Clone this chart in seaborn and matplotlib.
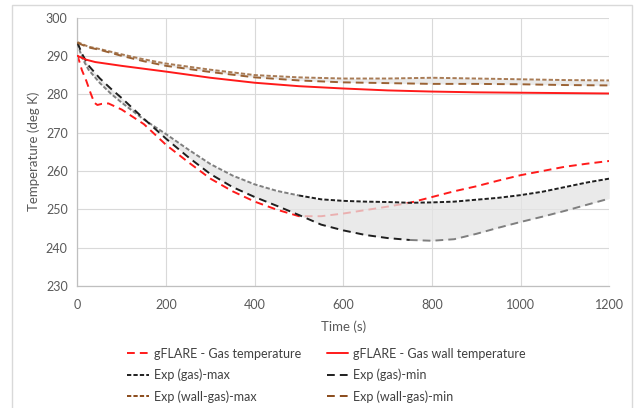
import numpy as np
import pandas as pd
import matplotlib
matplotlib.use("Agg")
import matplotlib.pyplot as plt
from matplotlib.lines import Line2D
from matplotlib.patches import Rectangle
import seaborn as sns

# ---------------- data ----------------
# gFLARE gas temperature
t_gas = [0, 10, 20, 30, 38, 45, 55, 70, 100, 150, 200, 250, 300, 350, 400, 450,
         500, 550, 600, 650, 700, 750, 800, 850, 900, 950, 1000, 1050, 1100, 1150, 1200]
gas_temp = [290.2, 286.3, 283.5, 280.2, 277.8, 277.2, 277.5, 277.6, 276.0, 272.2, 266.8,
            262.3, 258.0, 254.7, 252.0, 249.9, 248.2, 248.2, 248.9, 249.8, 250.7, 251.7,
            253.2, 254.7, 256.0, 257.5, 258.9, 260.0, 261.1, 261.9, 262.6]

# gFLARE gas wall temperature
t_wall = [0, 20, 40, 100, 200, 300, 400, 500, 600, 700, 800, 900, 1000, 1100, 1200]
wall_temp = [290.0, 289.0, 288.4, 287.4, 285.9, 284.3, 283.0, 282.1, 281.5, 281.0,
             280.7, 280.5, 280.4, 280.3, 280.2]

# Experimental gas (max / min)
t_exp = [0, 10, 25, 50, 75, 100, 150, 200, 250, 300, 350, 400, 450, 500, 550, 600,
         650, 700, 750, 800, 850, 900, 950, 1000, 1050, 1100, 1150, 1200]
exp_gas_max = [293.3, 289.6, 286.4, 283.0, 280.2, 277.8, 273.4, 269.6, 265.6, 261.8,
               258.8, 256.5, 254.8, 253.6, 252.6, 252.2, 252.0, 251.9, 251.7, 251.8,
               252.0, 252.5, 253.0, 253.7, 254.6, 255.8, 257.0, 258.0]
exp_gas_min = [293.5, 290.6, 287.5, 284.2, 281.5, 279.0, 273.6, 268.4, 263.6, 259.2,
               255.8, 253.2, 250.9, 248.5, 246.0, 244.5, 243.3, 242.5, 242.0, 241.8,
               242.2, 243.6, 245.2, 246.7, 248.1, 249.6, 251.2, 252.8]

# Experimental wall-gas (max / min)
t_wexp = [0, 25, 50, 100, 150, 200, 300, 400, 500, 600, 700, 800, 900, 1000, 1100, 1200]
exp_wall_max = [293.6, 292.4, 291.8, 290.4, 289.1, 288.0, 286.4, 285.0, 284.4, 284.1,
                284.1, 284.3, 284.1, 283.9, 283.7, 283.6]
exp_wall_min = [293.4, 292.2, 291.6, 290.0, 288.6, 287.4, 285.8, 284.4, 283.6, 283.1,
                282.9, 282.7, 282.7, 282.6, 282.4, 282.3]

labels = ["gFLARE - Gas temperature", "gFLARE - Gas wall temperature",
          "Exp (gas)-max", "Exp (gas)-min",
          "Exp (wall-gas)-max", "Exp (wall-gas)-min"]
x_ticks = [0, 200, 400, 600, 800, 1000, 1200]
y_ticks = [230, 240, 250, 260, 270, 280, 290, 300]

# ---------------- style ----------------
sns.set_style("white")
plt.rcParams["font.family"] = ["Lato", "DejaVu Sans"]
TXT = "#595959"

fig = plt.figure(figsize=(6.4, 4.08), dpi=100)
ax = fig.add_axes([0.121, 0.299, 0.831, 0.658])

RED = "#ff1a1a"
BLACK = "#1f1f1f"
FADE = "#7f7f7f"
BROWN_MAX = "#a87b55"
BROWN_MIN = "#9a6234"
BROWN_LEG = "#8a4b1a"

short_dash = (0, (2.2, 1.1))
long_dash = (0, (4, 2.6))

df_gas = pd.DataFrame({"t": t_gas, "T": gas_temp})
df_wall = pd.DataFrame({"t": t_wall, "T": wall_temp})
df_exp = pd.DataFrame({"t": t_exp, "max": exp_gas_max, "min": exp_gas_min})
df_wexp = pd.DataFrame({"t": t_wexp, "max": exp_wall_max, "min": exp_wall_min})

# gFLARE gas temperature (under the band, so it fades inside it)
sns.lineplot(data=df_gas, x="t", y="T", ax=ax, color=RED, lw=1.4,
             linestyle=long_dash, zorder=2)

# shaded band between experimental curves
ax.fill_between(df_exp["t"], df_exp["min"], df_exp["max"], color="#e4e4e4",
                alpha=0.75, lw=0, zorder=3)
ax.fill_between(df_wexp["t"], df_wexp["min"], df_wexp["max"], color="#e4e4e4",
                alpha=0.75, lw=0, zorder=3)

# Exp gas max: faded early, dark later
m1 = df_exp[df_exp["t"] <= 500]
m2 = df_exp[df_exp["t"] >= 500]
sns.lineplot(data=m1, x="t", y="max", ax=ax, color=FADE, lw=1.4,
             linestyle=short_dash, zorder=4)
sns.lineplot(data=m2, x="t", y="max", ax=ax, color=BLACK, lw=1.4,
             linestyle=short_dash, zorder=4)
# Exp gas min: dark early, faded later
n1 = df_exp[df_exp["t"] <= 750]
n2 = df_exp[df_exp["t"] >= 750]
sns.lineplot(data=n1, x="t", y="min", ax=ax, color=BLACK, lw=1.4,
             linestyle=long_dash, zorder=4)
sns.lineplot(data=n2, x="t", y="min", ax=ax, color=FADE, lw=1.4,
             linestyle=long_dash, zorder=4)

# Exp wall-gas
sns.lineplot(data=df_wexp, x="t", y="max", ax=ax, color=BROWN_MAX, lw=1.4,
             linestyle=short_dash, zorder=4)
sns.lineplot(data=df_wexp, x="t", y="min", ax=ax, color=BROWN_MIN, lw=1.4,
             linestyle=long_dash, zorder=4)

# gFLARE wall temperature
sns.lineplot(data=df_wall, x="t", y="T", ax=ax, color=RED, lw=1.4, zorder=5)

# ---------------- axes ----------------
ax.set_xlim(0, 1200)
ax.set_ylim(230, 300)
ax.set_xticks(x_ticks)
ax.set_yticks(y_ticks)
ax.grid(True, color="#d9d9d9", lw=0.8, zorder=0)
ax.set_axisbelow(True)
for s in ["top", "right"]:
    ax.spines[s].set_visible(False)
for s in ["left", "bottom"]:
    ax.spines[s].set_color("#bfbfbf")
    ax.spines[s].set_linewidth(0.9)
ax.tick_params(axis="x", length=0, labelsize=9, labelcolor=TXT, pad=9)
ax.tick_params(axis="y", length=0, labelsize=9, labelcolor=TXT, pad=7)
ax.set_xlabel("Time (s)", fontsize=9.5, color=TXT, labelpad=7)
ax.set_ylabel("Temperature (deg K)", fontsize=9.5, color=TXT, labelpad=4)

# ---------------- legend ----------------
h = {
    labels[0]: Line2D([], [], color=RED, lw=1.4, linestyle=long_dash),
    labels[1]: Line2D([], [], color=RED, lw=1.4),
    labels[2]: Line2D([], [], color=BLACK, lw=1.4, linestyle=short_dash),
    labels[3]: Line2D([], [], color=BLACK, lw=1.4, linestyle=long_dash),
    labels[4]: Line2D([], [], color=BROWN_LEG, lw=1.4, linestyle=short_dash),
    labels[5]: Line2D([], [], color=BROWN_LEG, lw=1.4, linestyle=long_dash),
}
order = [labels[0], labels[2], labels[4], labels[1], labels[3], labels[5]]
leg = fig.legend([h[k] for k in order], order, ncol=2, frameon=False,
                 loc="upper left", bbox_to_anchor=(0.199, 0.148),
                 fontsize=9, handlelength=1.7, handletextpad=0.4,
                 labelspacing=0.72, columnspacing=2.1, borderaxespad=0,
                 borderpad=0)
for t in leg.get_texts():
    t.set_color("#404040")

# outer chart border
fig.patches.append(Rectangle((12 / 640, -0.02), 620 / 640, 1.02 - 5 / 408,
                             transform=fig.transFigure, fill=False,
                             edgecolor="#d9d9d9", lw=1.0))

fig.savefig("out.png", dpi=100)
